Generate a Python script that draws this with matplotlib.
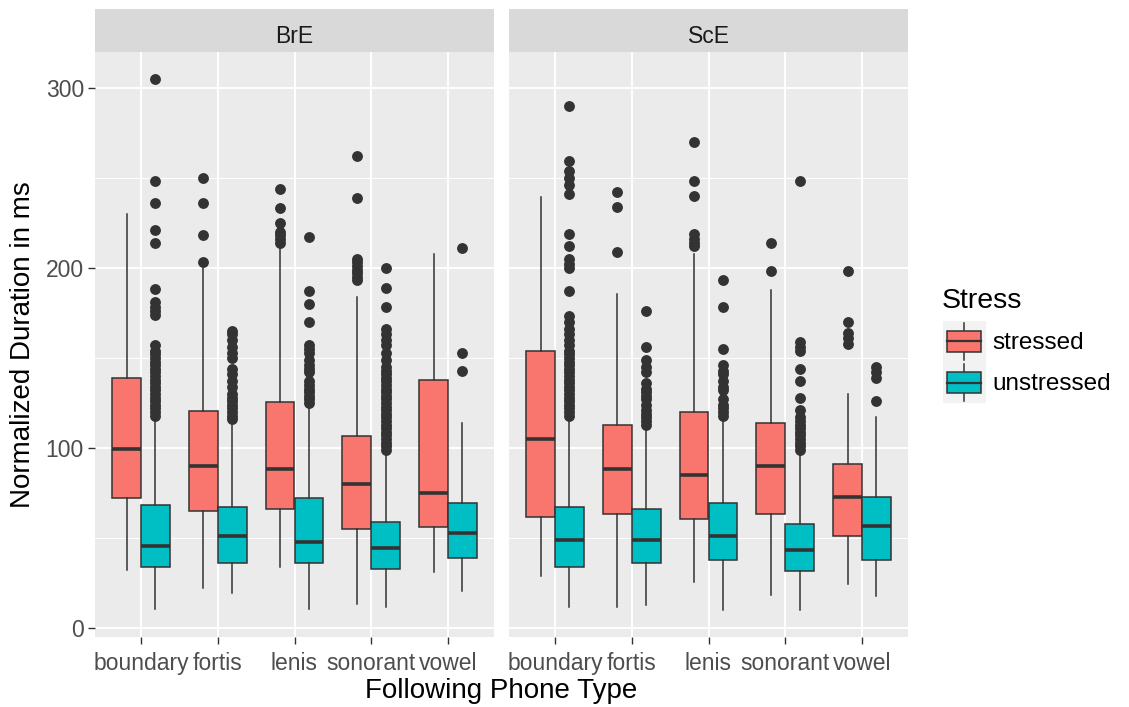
import matplotlib
matplotlib.use('Agg')
import matplotlib.pyplot as plt
from matplotlib.patches import Patch, Rectangle
from matplotlib.lines import Line2D
from matplotlib.legend_handler import HandlerBase
import numpy as np

plt.rcParams['font.family'] = ['Liberation Sans', 'DejaVu Sans']

categories = ['boundary', 'fortis', 'lenis', 'sonorant', 'vowel']
varieties = ['BrE', 'ScE']
stress_levels = ['stressed', 'unstressed']
stress_colors = ['#F8766D', '#00BFC4']

# BrE, stressed
bre_s_lo = [32.6, 22.5, 34.0, 13.5, 31.0]
bre_s_q1 = [72.4, 65.3, 66.3, 55.2, 56.2]
bre_s_med = [99.4, 90.3, 88.2, 80.0, 75.2]
bre_s_q3 = [139.0, 120.8, 125.7, 106.7, 137.9]
bre_s_hi = [230.0, 200.0, 211.0, 183.6, 207.8]
bre_s_out = [
    [],
    [203, 218, 236, 250],
    [214, 216, 218, 220, 225, 233, 244],
    [193, 195, 197, 199, 201, 203, 205, 239, 262],
    [],
]

# BrE, unstressed
bre_u_lo = [10.5, 19.8, 10.5, 11.6, 20.8]
bre_u_q1 = [33.9, 36.2, 36.2, 33.0, 39.0]
bre_u_med = [45.7, 51.0, 47.8, 44.6, 53.0]
bre_u_q3 = [68.2, 67.2, 72.4, 59.0, 69.3]
bre_u_hi = [116.6, 113.0, 123.6, 97.3, 114.0]
bre_u_out = [
    [118, 120, 122, 124, 126, 128, 130, 132, 134, 136, 138, 140, 142, 144,
     146, 148, 150, 152, 154, 157, 174, 176, 178, 181, 188, 214, 221, 236,
     248, 305],
    [116, 118, 120, 122, 124, 126, 128, 130, 134, 137, 141, 144, 150, 153,
     156, 160, 163, 165],
    [125, 127, 129, 131, 133, 135, 137, 142, 144, 146, 149, 153, 155, 157,
     170, 180, 187, 217],
    [99, 101, 103, 105, 107, 109, 111, 113, 115, 117, 119, 121, 123, 125,
     127, 129, 131, 133, 135, 137, 139, 141, 143, 145, 149, 153, 157, 160,
     163, 166, 178, 189, 200],
    [143, 153, 211],
]

# ScE, stressed
sce_s_lo = [28.8, 12.0, 25.7, 18.7, 24.6]
sce_s_q1 = [61.9, 63.2, 60.4, 63.2, 51.0]
sce_s_med = [105.0, 88.2, 85.3, 90.3, 73.0]
sce_s_q3 = [154.1, 113.0, 120.0, 113.7, 91.4]
sce_s_hi = [239.4, 185.7, 207.8, 187.8, 130.0]
sce_s_out = [
    [],
    [209, 234, 242],
    [212, 214, 216, 219, 240, 248, 270],
    [198, 214],
    [158, 161, 164, 170, 198],
]

# ScE, unstressed
sce_u_lo = [11.6, 13.0, 9.9, 9.9, 17.9]
sce_u_q1 = [34.1, 36.2, 37.9, 32.0, 37.9]
sce_u_med = [48.8, 48.8, 51.0, 43.6, 56.8]
sce_u_q3 = [67.2, 66.1, 69.3, 57.9, 73.0]
sce_u_hi = [116.2, 111.0, 116.2, 97.3, 117.3]
sce_u_out = [
    [118, 120, 122, 124, 126, 128, 130, 132, 134, 136, 138, 140, 142, 144,
     146, 148, 150, 152, 154, 157, 160, 163, 166, 170, 173, 187, 200, 202,
     205, 212, 219, 241, 246, 250, 254, 259, 290],
    [113, 115, 117, 119, 121, 124, 127, 129, 131, 133, 136, 142, 145, 149,
     156, 176],
    [118, 120, 122, 124, 127, 132, 134, 137, 141, 143, 146, 155, 178, 193],
    [99, 101, 103, 105, 107, 109, 111, 113, 115, 117, 121, 128, 137, 144,
     154, 156, 159, 248],
    [126, 139, 142, 145],
]

panels = {
    'BrE': [(bre_s_lo, bre_s_q1, bre_s_med, bre_s_q3, bre_s_hi, bre_s_out),
            (bre_u_lo, bre_u_q1, bre_u_med, bre_u_q3, bre_u_hi, bre_u_out)],
    'ScE': [(sce_s_lo, sce_s_q1, sce_s_med, sce_s_q3, sce_s_hi, sce_s_out),
            (sce_u_lo, sce_u_q1, sce_u_med, sce_u_q3, sce_u_hi, sce_u_out)],
}

EDGE = '#333333'
PANEL_BG = '#EBEBEB'
STRIP_BG = '#D9D9D9'
TICK_COL = '#4D4D4D'


def make_stats(lo, q1, med, q3, hi, out):
    return [dict(whislo=a, q1=b, med=c, q3=d, whishi=e, fliers=f)
            for a, b, c, d, e, f in zip(lo, q1, med, q3, hi, out)]


# shared y range, padded 5% like ggplot
all_vals = []
for groups in panels.values():
    for lo, q1, med, q3, hi, out in groups:
        all_vals += list(lo) + list(hi) + [v for o in out for v in o]
ymin, ymax = min(all_vals), max(all_vals)
pad = 0.05 * (ymax - ymin)

W, H = 1129, 707
fig = plt.figure(figsize=(W / 100, H / 100), dpi=100)

panel_left = [95, 509]
panel_w = 399
panel_top, panel_bot = 52, 637
strip_top = 9

x = np.arange(1, len(categories) + 1)
dodge = 0.1875

for i, var in enumerate(varieties):
    ax = fig.add_axes([panel_left[i] / W, (H - panel_bot) / H,
                       panel_w / W, (panel_bot - panel_top) / H])
    ax.set_facecolor(PANEL_BG)
    for s in ax.spines.values():
        s.set_visible(False)

    for j, groups in enumerate(panels[var]):
        stats = make_stats(*groups)
        off = -dodge if j == 0 else dodge
        ax.bxp(stats, positions=x + off, widths=2 * dodge * 0.999,
               patch_artist=True, showcaps=False, manage_ticks=False,
               boxprops=dict(facecolor=stress_colors[j], edgecolor=EDGE, linewidth=1.1),
               medianprops=dict(color=EDGE, linewidth=2.6),
               whiskerprops=dict(color=EDGE, linewidth=1.1),
               flierprops=dict(marker='o', markerfacecolor=EDGE,
                               markeredgecolor=EDGE, markersize=6.8,
                               linestyle='none'))

    ax.set_xlim(0.4, len(categories) + 0.6)
    ax.set_ylim(ymin - pad, ymax + pad)
    ax.set_xticks(x)
    ax.set_xticklabels(categories)
    ax.set_yticks([0, 100, 200, 300])
    ax.set_yticks([50, 150, 250], minor=True)
    ax.set_axisbelow(True)
    ax.grid(True, which='major', color='white', linewidth=1.4)
    ax.grid(True, which='minor', axis='y', color='white', linewidth=0.7)
    ax.tick_params(which='major', length=5, width=1.0, color=EDGE,
                   labelcolor=TICK_COL, labelsize=16.5, pad=3)
    ax.tick_params(axis='x', pad=6)
    ax.tick_params(which='minor', length=0)
    if i > 0:
        ax.tick_params(axis='y', which='both', left=False, labelleft=False)

    # facet strip
    sax = fig.add_axes([panel_left[i] / W, (H - panel_top) / H,
                        panel_w / W, (panel_top - strip_top) / H])
    sax.set_facecolor(STRIP_BG)
    sax.set_xticks([])
    sax.set_yticks([])
    for s in sax.spines.values():
        s.set_visible(False)
    sax.text(0.5, 0.36, var, ha='center', va='center', fontsize=16.5,
             color='#1A1A1A', transform=sax.transAxes)

fig.text((panel_left[0] + panel_left[1] + panel_w) / 2 / W, (H - 691) / H,
         'Following Phone Type', ha='center', va='center', fontsize=20)
fig.text(23 / W, (H - (panel_top + panel_bot) / 2) / H,
         'Normalized Duration in ms', ha='center', va='center',
         rotation=90, fontsize=20)


class BoxKey(HandlerBase):
    def create_artists(self, legend, orig_handle, xdescent, ydescent,
                       width, height, fontsize, trans):
        x0, y0 = -xdescent, -ydescent
        bg = Rectangle((x0, y0), width, height, facecolor='#F2F2F2',
                       edgecolor='none', transform=trans)
        inset = width * 0.1
        box = Rectangle((x0 + inset, y0 + height * 0.25), width - 2 * inset,
                        height * 0.5, facecolor=orig_handle.get_facecolor(),
                        edgecolor=EDGE, linewidth=1.1, transform=trans)
        cx = x0 + width / 2
        med = Line2D([x0 + inset, x0 + width - inset],
                     [y0 + height / 2] * 2, color=EDGE, linewidth=1.6,
                     transform=trans)
        w_lo = Line2D([cx, cx], [y0 + height * 0.05, y0 + height * 0.25],
                      color=EDGE, linewidth=1.1, transform=trans)
        w_hi = Line2D([cx, cx], [y0 + height * 0.75, y0 + height * 0.95],
                      color=EDGE, linewidth=1.1, transform=trans)
        return [bg, w_lo, w_hi, box, med]


# legend: title placed on its own, keys stacked underneath
fig.text(942 / W, (H - 301) / H, 'Stress', ha='left', va='center',
         fontsize=20.5)
handles = [Patch(facecolor=c) for c in stress_colors]
leg = fig.legend(handles, stress_levels,
                 handler_map={Patch: BoxKey()},
                 loc='upper left', bbox_to_anchor=(943 / W, (H - 321) / H),
                 frameon=False, fontsize=17.5,
                 handlelength=1.75, handleheight=2.2, labelspacing=0.02,
                 handletextpad=0.3, borderpad=0, borderaxespad=0)

fig.savefig('out.png', dpi=100)
